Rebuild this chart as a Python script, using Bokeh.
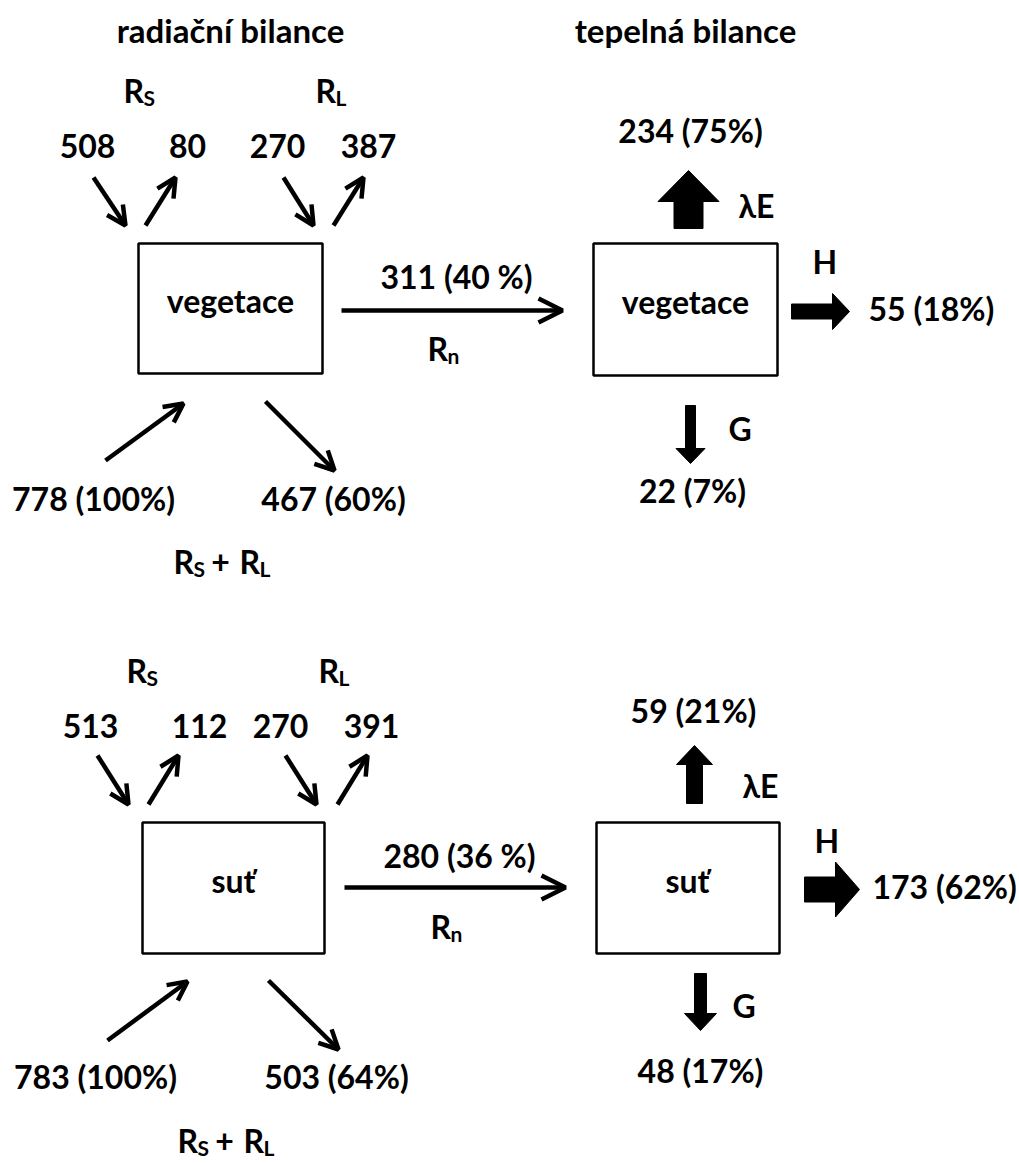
from bokeh.plotting import figure
from bokeh.models import Range1d, Arrow, OpenHead, ColumnDataSource
from bokeh.core.properties import value
from bokeh.embed import file_html
from bokeh.resources import INLINE

# ---------------- data ----------------
headings = ["radiační bilance", "tepelná bilance"]
surfaces = ["vegetace", "suť"]
rs_down = [508, 513]
rs_up = [80, 112]
rl_down = [270, 270]
rl_up = [387, 391]
rad_in = [778, 783]
rad_in_pct = [100, 100]
rad_out = [467, 503]
rad_out_pct = [60, 64]
rn = [311, 280]
rn_pct = [40, 36]
le = [234, 59]
le_pct = [75, 21]
h = [55, 173]
h_pct = [18, 62]
g = [22, 48]
g_pct = [7, 17]

# ---------------- layout (screen pixels) ----------------
W, H = 1019, 1163
FONT = value("Lato")
BIG = "32px"
HEAD = "33px"
SUB = "21px"
R_W = 20      # advance of the letter R before a subscript
TEXT_DY = -12  # baseline correction of the text renderer

layout = [
    dict(rs=(123, 102), rl=(315, 102),
         nums_x=[87, 187, 277, 368], nums_y=157,
         diag=[(93, 177, 125, 225), (145, 225, 175, 177),
               (283, 177, 313, 225), (333, 225, 363, 177)],
         box_l=(138, 322, 243, 373), surf_l=(230, 312),
         rn_line=(341, 562, 310), rn_val=(456, 288), rn_lab=(427, 360),
         low=[(105, 460, 183, 403), (265, 401, 334, 470)],
         low_lab=[(93, 510), (333, 510)],
         rsum=(173, 573),
         box_r=(593, 777, 243, 375), surf_r=(685, 313),
         le_arrow=(688, 228, 688, 170, 29, 61, 31), le_lab=(738, 217), le_val=(690, 142),
         h_arrow=(791, 311, 849, 311, 15, 36, 17), h_lab=(812, 273), h_val=(868, 320),
         g_arrow=(690, 405, 690, 463, 10, 29, 15), g_lab=(728, 440), g_val=(692, 502)),
    dict(rs=(126, 682), rl=(318, 682),
         nums_x=[90, 199, 280, 371], nums_y=737,
         diag=[(97, 755, 128, 804), (148, 804, 178, 755),
               (285, 755, 316, 804), (337, 804, 367, 755)],
         box_l=(142, 324, 822, 953), surf_l=(233, 892),
         rn_line=(344, 565, 887), rn_val=(459, 867), rn_lab=(430, 938),
         low=[(107, 1040, 187, 981), (268, 980, 338, 1049)],
         low_lab=[(95, 1088), (336, 1088)],
         rsum=(177, 1152),
         box_r=(596, 779, 822, 953), surf_r=(687, 892),
         le_arrow=(694, 803, 694, 745, 16, 36, 19), le_lab=(742, 797), le_val=(693, 722),
         h_arrow=(804, 889, 859, 889, 25, 55, 24), h_lab=(814, 852), h_val=(872, 898),
         g_arrow=(700, 973, 700, 1030, 12, 32, 17), g_lab=(732, 1017), g_val=(700, 1082)),
]

p = figure(width=W, height=H, x_range=Range1d(0, W), y_range=Range1d(H, 0),
           x_axis_type=None, y_axis_type=None, toolbar_location=None,
           output_backend="svg", min_border=0)
p.outline_line_color = None
p.background_fill_color = "white"
p.border_fill_color = "white"


def block_arrow(x0, y0, x1, y1, shaft, head_w, head_len):
    dx, dy = x1 - x0, y1 - y0
    ln = (dx * dx + dy * dy) ** 0.5
    ux, uy = dx / ln, dy / ln
    nx, ny = -uy, ux
    bx, by = x1 - ux * head_len, y1 - uy * head_len
    pts = [
        (x0 + nx * shaft / 2, y0 + ny * shaft / 2),
        (bx + nx * shaft / 2, by + ny * shaft / 2),
        (bx + nx * head_w / 2, by + ny * head_w / 2),
        (x1, y1),
        (bx - nx * head_w / 2, by - ny * head_w / 2),
        (bx - nx * shaft / 2, by - ny * shaft / 2),
        (x0 - nx * shaft / 2, y0 - ny * shaft / 2),
    ]
    return [q[0] for q in pts], [q[1] for q in pts]


big = dict(x=[], y=[], text=[], align=[])
head = dict(x=[], y=[], text=[])
sub = dict(x=[], y=[], text=[])


def add_big(x, y, t, align="center"):
    big["x"].append(x); big["y"].append(y + TEXT_DY); big["text"].append(t); big["align"].append(align)


def add_R(xr, y, s):
    add_big(xr, y, "R", "left")
    sub["x"].append(xr + R_W); sub["y"].append(y + 7 + TEXT_DY); sub["text"].append(s)


for hx, ht in zip([230, 685], headings):
    head["x"].append(hx); head["y"].append(41 + TEXT_DY); head["text"].append(ht)

diag = dict(x0=[], y0=[], x1=[], y1=[])
rn_ar = dict(x0=[], y0=[], x1=[], y1=[])
blk_xs, blk_ys = [], []
box = dict(l=[], r=[], t=[], b=[])

for i, Lp in enumerate(layout):
    add_R(Lp["rs"][0], Lp["rs"][1], "S")
    add_R(Lp["rl"][0], Lp["rl"][1], "L")
    for xv, v in zip(Lp["nums_x"], [rs_down[i], rs_up[i], rl_down[i], rl_up[i]]):
        add_big(xv, Lp["nums_y"], str(v))
    for a in Lp["diag"] + Lp["low"]:
        diag["x0"].append(a[0]); diag["y0"].append(a[1])
        diag["x1"].append(a[2]); diag["y1"].append(a[3])
    for bb in (Lp["box_l"], Lp["box_r"]):
        box["l"].append(bb[0]); box["r"].append(bb[1]); box["t"].append(bb[2]); box["b"].append(bb[3])
    add_big(Lp["surf_l"][0], Lp["surf_l"][1], surfaces[i])
    add_big(Lp["surf_r"][0], Lp["surf_r"][1], surfaces[i])
    x0, x1, yy = Lp["rn_line"]
    rn_ar["x0"].append(x0); rn_ar["y0"].append(yy); rn_ar["x1"].append(x1); rn_ar["y1"].append(yy)
    add_big(Lp["rn_val"][0], Lp["rn_val"][1], f"{rn[i]} ({rn_pct[i]} %)")
    add_R(Lp["rn_lab"][0], Lp["rn_lab"][1], "n")
    add_big(Lp["low_lab"][0][0], Lp["low_lab"][0][1], f"{rad_in[i]} ({rad_in_pct[i]}%)")
    add_big(Lp["low_lab"][1][0], Lp["low_lab"][1][1], f"{rad_out[i]} ({rad_out_pct[i]}%)")
    rx, ry = Lp["rsum"]
    add_R(rx, ry, "S")
    add_big(rx + 47, ry, "+")
    add_R(rx + 66, ry, "L")
    for key in ("le_arrow", "h_arrow", "g_arrow"):
        xs, ys = block_arrow(*Lp[key])
        blk_xs.append(xs); blk_ys.append(ys)
    add_big(Lp["le_lab"][0], Lp["le_lab"][1], "λE", "left")
    add_big(Lp["le_val"][0], Lp["le_val"][1], f"{le[i]} ({le_pct[i]}%)")
    add_big(Lp["h_lab"][0], Lp["h_lab"][1], "H", "left")
    add_big(Lp["h_val"][0], Lp["h_val"][1], f"{h[i]} ({h_pct[i]}%)", "left")
    add_big(Lp["g_lab"][0], Lp["g_lab"][1], "G", "left")
    add_big(Lp["g_val"][0], Lp["g_val"][1], f"{g[i]} ({g_pct[i]}%)")

p.quad(left="l", right="r", top="t", bottom="b", source=ColumnDataSource(box),
       fill_color=None, line_color="black", line_width=2.5)

p.add_layout(Arrow(end=OpenHead(size=19, line_width=4.5, line_color="black"),
                   x_start="x0", y_start="y0", x_end="x1", y_end="y1",
                   line_width=4.5, line_color="black", source=ColumnDataSource(diag)))
p.add_layout(Arrow(end=OpenHead(size=24, line_width=4.5, line_color="black"),
                   x_start="x0", y_start="y0", x_end="x1", y_end="y1",
                   line_width=4.5, line_color="black", source=ColumnDataSource(rn_ar)))
p.patches(xs=blk_xs, ys=blk_ys, fill_color="black", line_color="black", line_width=1)

p.text(x="x", y="y", text="text", text_align="align", source=ColumnDataSource(big),
       text_font=FONT, text_font_style="bold", text_font_size=BIG,
       text_baseline="alphabetic", text_color="black")
p.text(x="x", y="y", text="text", source=ColumnDataSource(head),
       text_font=FONT, text_font_style="bold", text_font_size=HEAD,
       text_baseline="alphabetic", text_align="center", text_color="black")
p.text(x="x", y="y", text="text", source=ColumnDataSource(sub),
       text_font=FONT, text_font_style="bold", text_font_size=SUB,
       text_baseline="alphabetic", text_align="left", text_color="black")

open("out.html", "w").write(file_html(p, INLINE))
